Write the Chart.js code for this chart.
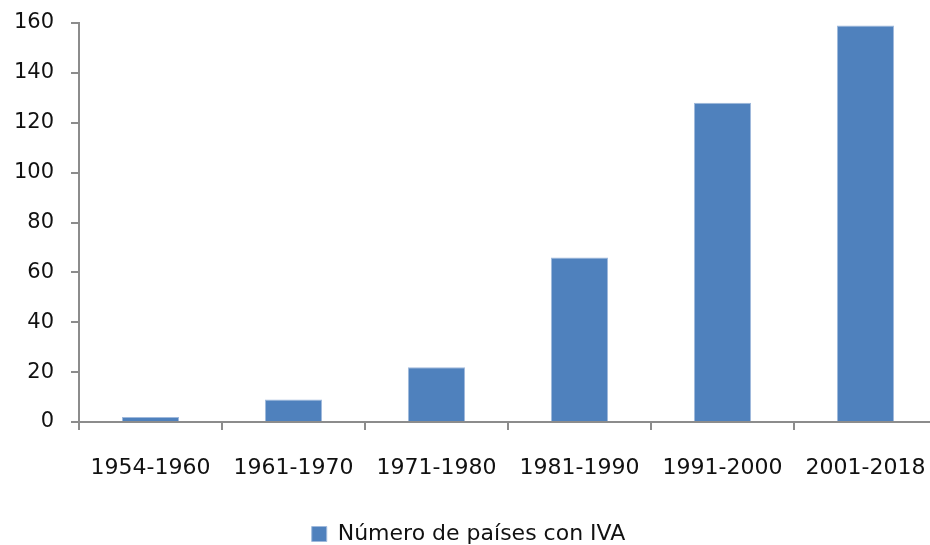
<!DOCTYPE html>
<html>
<head>
<meta charset="utf-8">
<script src="https://cdn.jsdelivr.net/npm/chart.js@4.4.0/dist/chart.umd.min.js"></script>
<style>
  html, body { margin: 0; padding: 0; background: #fff; overflow: hidden; }
  #wrap { width: 937px; height: 545px; position: relative; }
</style>
</head>
<body>
<div id="wrap"><canvas id="myChart"></canvas></div>
<script>
// Datos del gráfico
var periodos = ['1954-1960', '1961-1970', '1971-1980', '1981-1990', '1991-2000', '2001-2018'];
var paisesConIva = [2, 9, 22, 66, 128, 159];
var serieNombre = 'Número de países con IVA';

var fuente = 'DejaVu Sans';
var colorTexto = '#111111';
var colorEje = '#8c8c8c';

var ctx = document.getElementById('myChart').getContext('2d');
var myChart = new Chart(ctx, {
  type: 'bar',
  data: {
    labels: periodos,
    datasets: [{
      label: serieNombre,
      data: paisesConIva,
      backgroundColor: '#4F81BD',
      borderColor: '#9fb9dc',
      borderWidth: 1,
      barPercentage: 0.4,
      categoryPercentage: 1.0
    }]
  },
  options: {
    responsive: true,
    maintainAspectRatio: false,
    animation: false,
    layout: { padding: { top: 23, left: 0, right: 0, bottom: -10 } },
    plugins: {
      legend: {
        position: 'bottom',
        labels: {
          color: colorTexto,
          font: { family: fuente, size: 22 },
          boxWidth: 15,
          boxHeight: 15,
          padding: 0
        }
      },
      tooltip: { enabled: false }
    },
    scales: {
      x: {
        grid: { drawOnChartArea: false, color: colorEje, tickLength: 8, lineWidth: 2 },
        border: { color: colorEje, width: 2 },
        ticks: { color: colorTexto, font: { family: fuente, size: 22 }, padding: 25, maxRotation: 0 },
        afterFit: function (s) { s.height = 101; s.paddingLeft = 0; s.paddingRight = 0; }
      },
      y: {
        min: 0,
        max: 160,
        ticks: { stepSize: 20, color: colorTexto, font: { family: fuente, size: 21 }, padding: 17 },
        grid: { drawOnChartArea: false, color: colorEje, tickLength: 8, lineWidth: 2 },
        border: { color: colorEje, width: 2 },
        afterFit: function (s) { s.width = 79; s.paddingTop = 0; s.paddingBottom = 0; }
      }
    }
  }
});
</script>
</body>
</html>
